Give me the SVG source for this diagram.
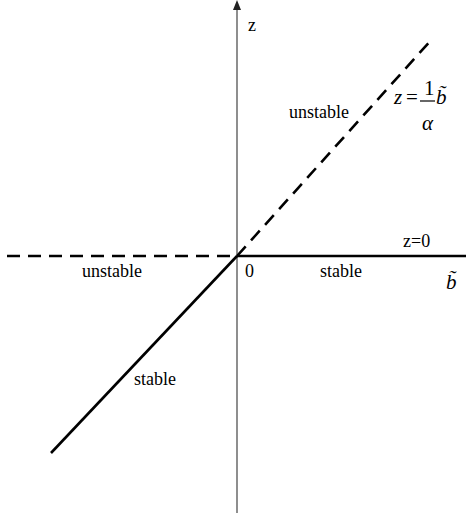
<svg xmlns="http://www.w3.org/2000/svg" width="466" height="518" viewBox="0 0 466 518">
<style>
text{font-family:"Liberation Serif","Times New Roman",serif;font-size:18px;fill:#000}
.it{font-style:italic}
.f{font-size:21px}
.solid{stroke:#000;stroke-width:2.6;fill:none}
.dash{stroke:#000;stroke-width:2.6;fill:none;stroke-dasharray:13 8}
.axis{stroke:#444;stroke-width:1.2;fill:none}
</style>
<g id="connectors">
<line id="z-axis" class="axis" x1="237" y1="513" x2="237" y2="9"/>
<path d="M233,10 L237,0 L241,10 Z" fill="#222"/>
<line id="neg-b-unstable" class="dash" x1="7" y1="256" x2="237" y2="256"/>
<line id="pos-b-stable" class="solid" x1="237" y1="256" x2="466" y2="256"/>
<line id="diag-unstable" class="dash" x1="237" y1="256" x2="433" y2="38"/>
<line id="diag-stable" class="solid" x1="237" y1="256" x2="51" y2="453"/>
</g>
<g id="labels">
<text x="248" y="31">z</text>
<text x="289" y="118">unstable</text>
<text x="82" y="277">unstable</text>
<text x="245" y="277">0</text>
<text x="320" y="277">stable</text>
<text x="403" y="247">z=0</text>
<text x="134" y="385">stable</text>
<text class="it f" x="446" y="289">b̃</text>
</g>
<g id="formula">
<text class="it f" x="394" y="104">z</text>
<text class="f" x="406" y="104">=</text>
<line x1="420" y1="101" x2="435" y2="101" stroke="#000" stroke-width="1.2"/>
<text class="f" x="424" y="95">1</text>
<text class="it f" x="422" y="130">α</text>
<text class="it f" x="436" y="104">b̃</text>
</g>
</svg>
